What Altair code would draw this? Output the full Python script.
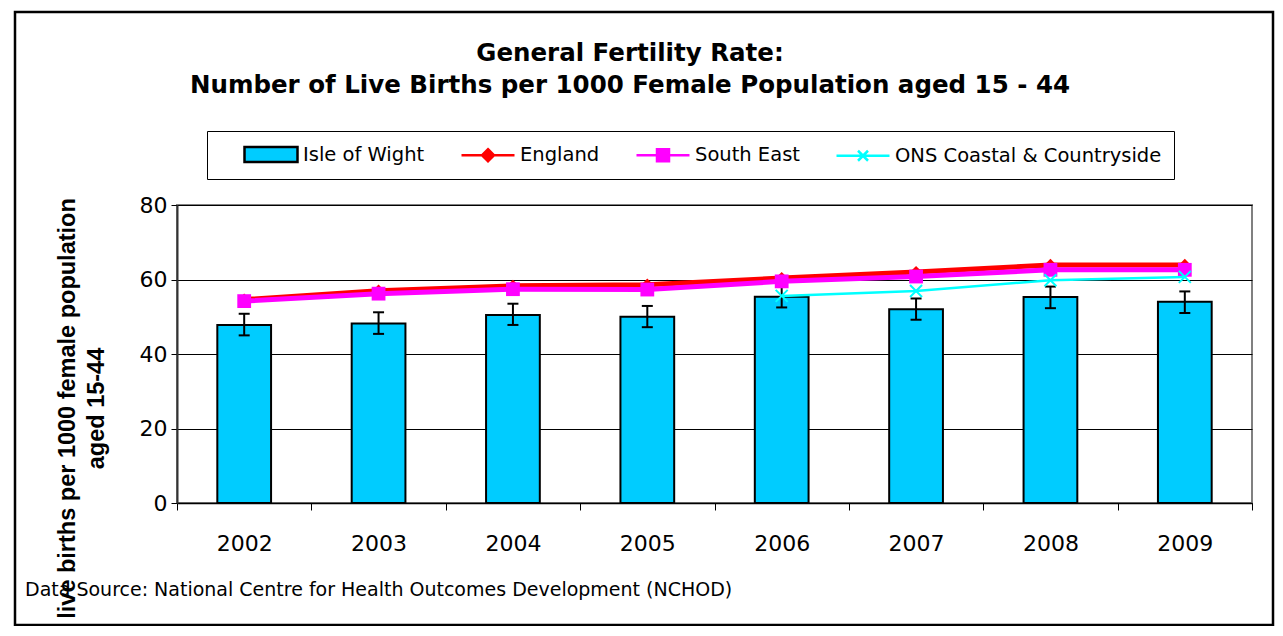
import altair as alt
import pandas as pd

# ---------------- data ----------------
years = ["2002", "2003", "2004", "2005", "2006", "2007", "2008", "2009"]
iow = [47.8, 48.2, 50.5, 50.0, 55.4, 52.0, 55.3, 54.0]
iow_low = [45.0, 45.4, 47.8, 47.2, 52.5, 49.2, 52.3, 51.0]
iow_high = [50.8, 51.2, 53.5, 52.9, 58.3, 54.9, 58.1, 56.8]
england = [54.6, 57.0, 58.3, 58.6, 60.4, 62.0, 63.9, 63.9]
south_east = [54.2, 56.2, 57.4, 57.3, 59.5, 60.8, 62.6, 62.6]
coastal_years = ["2006", "2007", "2008", "2009"]
coastal = [55.6, 56.9, 59.8, 60.7]

series = ["Isle of Wight", "England", "South East", "ONS Coastal & Countryside"]
fill_range = ["#00CCFF", "#FF0000", "#FF00FF", "#00FFFF"]
stroke_range = ["#000000", "#FF0000", "#FF00FF", "#00FFFF"]
shape_range = [
    "M-2.65,-0.75H2.65V0.75H-2.65Z",
    "M-2.65,0H2.65M0,-0.6L0.6,0L0,0.6L-0.6,0Z",
    "M-2.65,0H2.65M-0.6,-0.6H0.6V0.6H-0.6Z",
    "M-2.65,0H2.65M-0.5,-0.5L0.5,0.5M-0.5,0.5L0.5,-0.5",
]

title_lines = ["General Fertility Rate:",
               "Number of Live Births per 1000 Female Population aged 15 - 44"]
y_title = ["live births per 1000 female population", "aged 15-44"]
source_text = "Data Source:  National Centre for Health Outcomes Development (NCHOD)"
y_ticks = [0, 20, 40, 60, 80]

FONT = "DejaVu Sans"

bars_df = pd.DataFrame({"year": years, "value": iow, "lo": iow_low, "hi": iow_high})
eng_df = pd.DataFrame({"year": years, "value": england})
se_df = pd.DataFrame({"year": years, "value": south_east})
co_df = pd.DataFrame({"year": coastal_years, "value": coastal})

W, H = 1075, 298

x_scale = alt.Scale(type="band", domain=years, paddingInner=0, paddingOuter=0)
x_axis = alt.Axis(title=None, labelAngle=0, tickBand="extent", tickSize=7,
                  tickColor="black", tickWidth=1, domainColor="black", domainWidth=1.5,
                  labelFont=FONT, labelFontSize=22, labelColor="black",
                  labelPadding=23, grid=False)
y_scale = alt.Scale(domain=[0, 80], nice=False)
y_axis = alt.Axis(values=y_ticks, title=y_title, grid=True, gridColor="black",
                  gridWidth=1, domainColor="#333333", domainWidth=2,
                  tickColor="black", tickSize=6, labelFont=FONT, labelFontSize=22,
                  labelColor="black", labelPadding=4,
                  titleFont="Liberation Sans", titleFontSize=23.5, titleFontWeight="bold",
                  titleColor="black", titleAngle=270, titleAlign="center",
                  titleBaseline="top", titleX=-122, titleY=203, titleLineHeight=29)

X = alt.X("year:N", scale=x_scale, axis=x_axis)


def Y(field):
    return alt.Y(field, type="quantitative", scale=y_scale, axis=y_axis)


one = pd.DataFrame({"k": [0]})

border = alt.Chart(one).mark_rect(fill="transparent", stroke="black", strokeWidth=2.5).encode(
    x=alt.value(-162), x2=alt.value(1096), y=alt.value(-193), y2=alt.value(420))

bars = alt.Chart(bars_df).mark_bar(
    fill="#00CCFF", stroke="black", strokeWidth=2, width={"band": 0.4}
).encode(x=X, y=Y("value"))

err_rule = alt.Chart(bars_df).mark_rule(color="black", strokeWidth=2).encode(
    x=X, y=Y("lo"), y2="hi")
err_lo = alt.Chart(bars_df).mark_tick(color="black", thickness=2, size=11, opacity=1).encode(
    x=X, y=Y("lo"))
err_hi = alt.Chart(bars_df).mark_tick(color="black", thickness=2, size=11, opacity=1).encode(
    x=X, y=Y("hi"))

eng_line = alt.Chart(eng_df).mark_line(color="#FF0000", strokeWidth=5).encode(x=X, y=Y("value"))
eng_pts = alt.Chart(eng_df).mark_point(shape="diamond", filled=True, color="#FF0000",
                                       size=150, opacity=1).encode(x=X, y=Y("value"))
se_line = alt.Chart(se_df).mark_line(color="#FF00FF", strokeWidth=5).encode(x=X, y=Y("value"))
se_pts = alt.Chart(se_df).mark_point(shape="square", filled=True, color="#FF00FF",
                                     size=190, opacity=1).encode(x=X, y=Y("value"))
co_line = alt.Chart(co_df).mark_line(color="#00FFFF", strokeWidth=2.5).encode(x=X, y=Y("value"))
co_pts = alt.Chart(co_df).mark_point(shape="M-1,-1L1,1M-1,1L1,-1", filled=False,
                                     color="#00FFFF", strokeWidth=2, size=144,
                                     opacity=1).encode(x=X, y=Y("value"))

leg = alt.Legend(title=None, orient="none", legendX=30, legendY=-74,
                 direction="horizontal", columns=4, columnPadding=11,
                 symbolSize=400, symbolStrokeWidth=2.5, symbolOffset=40.5,
                 labelOffset=20.5, labelFont=FONT, labelFontSize=19.5, labelLimit=500,
                 labelColor="black", padding=12, strokeColor="black",
                 fillColor="white")

legend_df = pd.DataFrame({"series": series})
legend_layer = alt.Chart(legend_df).mark_point(filled=True, opacity=1).encode(
    fill=alt.Fill("series:N", scale=alt.Scale(domain=series, range=fill_range), legend=leg),
    stroke=alt.Stroke("series:N", scale=alt.Scale(domain=series, range=stroke_range), legend=leg),
    shape=alt.Shape("series:N", scale=alt.Scale(domain=series, range=shape_range), legend=leg),
).transform_filter("false")

t1 = alt.Chart(pd.DataFrame({"t": [title_lines[0]]})).mark_text(
    font=FONT, fontSize=24.5, fontWeight="bold", align="center", baseline="middle",
    color="black").encode(text="t:N", x=alt.value(453), y=alt.value(-151))
t2 = alt.Chart(pd.DataFrame({"t": [title_lines[1]]})).mark_text(
    font=FONT, fontSize=24.5, fontWeight="bold", align="center", baseline="middle",
    color="black").encode(text="t:N", x=alt.value(453), y=alt.value(-119))
src = alt.Chart(pd.DataFrame({"t": [source_text]})).mark_text(
    font=FONT, fontSize=19, align="left", baseline="middle",
    color="black").encode(text="t:N", x=alt.value(-152), y=alt.value(385))

chart = alt.layer(
    border, bars, err_rule, err_lo, err_hi, eng_line, eng_pts, se_line, se_pts,
    co_line, co_pts, legend_layer, t1, t2, src
).properties(
    width=W, height=H,
    autosize=alt.AutoSizeParams(type="none"),
    padding={"left": 169, "top": 197, "right": 23, "bottom": 123},
    background="white",
).configure_view(stroke="#808080", strokeWidth=2)

chart.save("out.html", embed_options={"renderer": "svg", "actions": False})
